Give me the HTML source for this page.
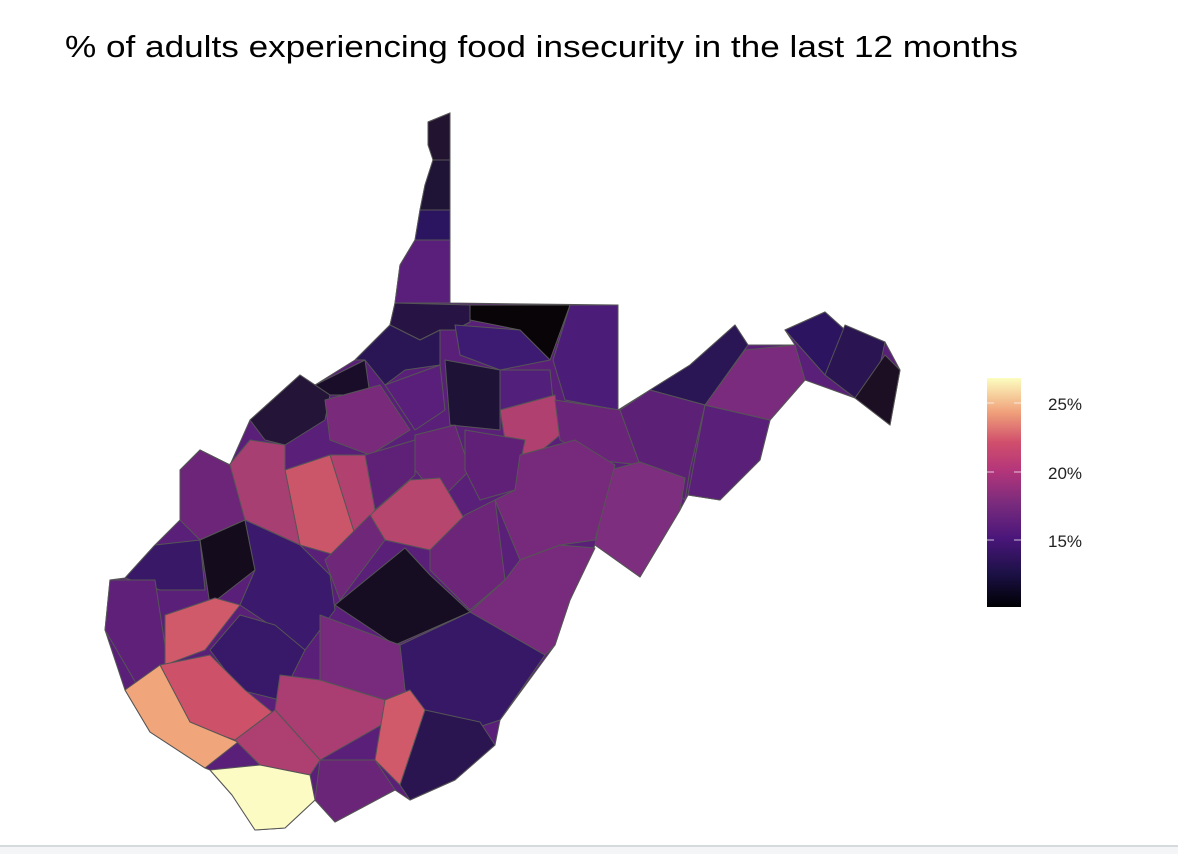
<!DOCTYPE html>
<html><head><meta charset="utf-8"><style>
body{margin:0;background:#fff;width:1178px;height:854px;overflow:hidden;font-family:"Liberation Sans",Arial,sans-serif;}
</style></head><body>
<svg width="1178" height="854" xmlns="http://www.w3.org/2000/svg">
<defs><linearGradient id="g" x1="0" y1="1" x2="0" y2="0">
<stop offset="0" stop-color="#000004"/><stop offset="0.15" stop-color="#1d1147"/><stop offset="0.3" stop-color="#4a167a"/><stop offset="0.45" stop-color="#792b7d"/><stop offset="0.6" stop-color="#b5367a"/><stop offset="0.72" stop-color="#d04f6c"/><stop offset="0.85" stop-color="#f0a07a"/><stop offset="1" stop-color="#fcfdbf"/></linearGradient></defs>
<text x="65" y="57" font-size="31" textLength="953" lengthAdjust="spacingAndGlyphs" fill="#000">% of adults experiencing food insecurity in the last 12 months</text>
<polygon fill="#5a2079" stroke="#555" stroke-width="1" points="428,122 450,113 450,303 618,305 618,410 650,390 690,365 735,325 748,345 795,345 785,330 825,312 845,330 885,342 900,370 890,425 855,398 805,380 770,420 760,460 720,500 688,495 680,510 640,577 595,545 570,600 555,645 500,720 495,745 455,780 410,800 395,790 335,822 315,800 285,828 255,830 232,795 210,770 205,768 150,732 125,690 105,630 110,580 125,578 155,545 180,520 180,470 200,450 230,465 250,420 300,375 315,385 355,360 390,325 395,303 400,265 415,240 420,210 425,185 433,160"/>
<g stroke="#555" stroke-width="1" stroke-linejoin="round">
<polygon fill="#221331" points="428,122 450,113 450,160 433,160 428,145"/>
<polygon fill="#1f1336" points="433,160 450,160 450,210 420,210 425,185"/>
<polygon fill="#2b1460" points="420,210 450,210 450,240 415,240"/>
<polygon fill="#5a1f7a" points="415,240 450,240 450,303 395,303 400,265"/>
<polygon fill="#271444" points="395,303 470,305 470,322 455,330 440,330 420,340 390,325"/>
<polygon fill="#080408" points="470,305 570,305 550,360 520,330 470,320"/>
<polygon fill="#4b1d78" points="570,305 618,305 618,410 565,400 553,360"/>
<polygon fill="#3e1b72" points="455,325 520,330 550,360 500,370 460,355"/>
<polygon fill="#2a1655" points="355,360 390,325 420,340 440,330 440,365 405,370 385,385 365,360"/>
<polygon fill="#1a0d2a" points="315,385 365,360 370,395 330,395"/>
<polygon fill="#241438" points="250,420 300,375 330,395 325,420 285,445 265,440"/>
<polygon fill="#7a2a7a" points="325,400 380,385 410,430 370,455 330,440"/>
<polygon fill="#5a1f7a" points="385,385 440,365 445,410 415,430"/>
<polygon fill="#1e1236" points="445,360 500,370 500,430 450,425"/>
<polygon fill="#52207a" points="500,370 550,370 553,400 520,410 500,410"/>
<polygon fill="#b0406f" points="500,410 555,395 560,435 530,460 505,440"/>
<polygon fill="#6a2479" points="555,400 620,410 640,465 595,460 560,440"/>
<polygon fill="#2a1655" points="650,390 690,365 735,325 748,345 705,405"/>
<polygon fill="#5c2077" points="620,410 650,390 705,405 690,470 685,500 640,465"/>
<polygon fill="#5a2079" points="705,405 770,420 760,460 720,500 688,495"/>
<polygon fill="#7a2b7d" points="705,405 745,350 795,345 805,380 770,420"/>
<polygon fill="#2c1460" points="785,330 825,312 845,330 825,375"/>
<polygon fill="#2a1552" points="825,375 845,325 885,342 880,365 855,398"/>
<polygon fill="#1c0f24" points="855,398 885,355 900,370 890,425"/>
<polygon fill="#7d2e7e" points="595,545 610,470 640,462 685,478 680,510 640,577"/>
<polygon fill="#6a2479" points="415,435 455,425 470,470 440,500 415,470"/>
<polygon fill="#612078" points="465,430 525,440 515,490 480,500 465,470"/>
<polygon fill="#772a7c" points="520,455 575,440 615,465 595,540 560,545 520,560 495,500 515,490"/>
<polygon fill="#5f2078" points="365,455 415,440 415,475 375,510"/>
<polygon fill="#b7466f" points="370,515 410,480 440,478 465,520 430,550 385,540"/>
<polygon fill="#6c2579" points="430,550 465,515 495,500 505,580 470,610 430,570"/>
<polygon fill="#b14270" points="330,455 365,455 375,510 355,535"/>
<polygon fill="#cc5669" points="285,470 330,455 355,535 335,555 300,545"/>
<polygon fill="#a83f72" points="225,470 250,440 285,445 285,470 300,545 245,520"/>
<polygon fill="#6c2579" points="180,470 200,450 230,465 245,520 200,540 180,520"/>
<polygon fill="#140b1c" points="200,540 245,520 255,570 210,605"/>
<polygon fill="#3a1868" points="155,545 200,540 205,590 160,590 125,578"/>
<polygon fill="#5e2079" points="110,580 155,580 168,665 140,690 105,630"/>
<polygon fill="#3b196c" points="245,520 300,545 330,575 335,610 305,650 270,625 240,605 255,570"/>
<polygon fill="#6e2779" points="325,560 370,515 385,540 340,600"/>
<polygon fill="#170d22" points="335,605 405,548 430,575 470,612 395,645"/>
<polygon fill="#d05a6a" points="165,615 215,598 240,605 205,650 165,665"/>
<polygon fill="#381868" points="210,650 240,615 275,625 305,650 280,700 240,690"/>
<polygon fill="#cd5269" points="160,665 210,655 245,690 272,712 235,740 190,725"/>
<polygon fill="#f0a57a" points="125,690 160,665 190,722 238,742 205,768 150,732"/>
<polygon fill="#782a7c" points="320,615 400,645 410,690 385,700 320,680"/>
<polygon fill="#371867" points="400,645 470,612 545,655 500,720 440,740 405,690"/>
<polygon fill="#aa3e72" points="280,675 320,680 385,700 390,720 320,760 275,710"/>
<polygon fill="#ad4070" points="235,740 275,710 320,760 310,775 260,765"/>
<polygon fill="#d05a6a" points="385,700 410,690 425,710 400,785 375,760"/>
<polygon fill="#2a1550" points="400,785 425,710 480,722 495,745 455,780 410,800"/>
<polygon fill="#6a2478" points="320,760 375,760 395,790 335,822 315,800"/>
<polygon fill="#fcfbc4" points="210,770 260,765 310,775 315,800 285,828 255,830 232,795"/>
<polygon fill="#782b7c" points="470,612 505,580 520,560 560,545 595,548 570,600 555,645 545,655"/>
</g>
<rect x="987" y="378" width="34" height="229" fill="url(#g)"/>
<g stroke="#fff" stroke-opacity="0.6" stroke-width="1.2">
<line x1="987" y1="403" x2="994" y2="403"/><line x1="1014" y1="403" x2="1021" y2="403"/>
<line x1="987" y1="472" x2="994" y2="472"/><line x1="1014" y1="472" x2="1021" y2="472"/>
<line x1="987" y1="540" x2="994" y2="540"/><line x1="1014" y1="540" x2="1021" y2="540"/>
</g>
<g font-size="17" fill="#222">
<text x="1048" y="410">25%</text><text x="1048" y="479">20%</text><text x="1048" y="547">15%</text>
</g>
<rect x="0" y="845" width="1178" height="2" fill="#d5dadd"/>
<rect x="0" y="847" width="1178" height="7" fill="#f3f5f6"/>
</svg>
</body></html>
